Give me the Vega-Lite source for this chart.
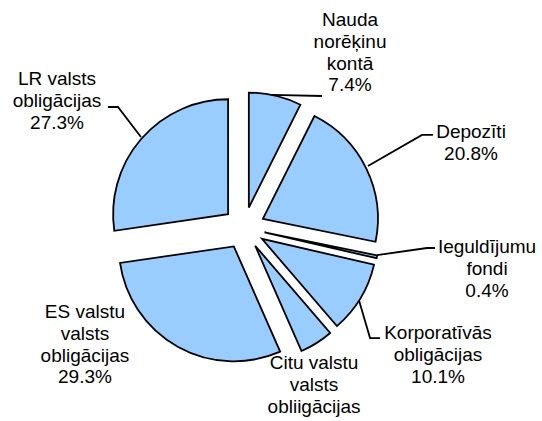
{
  "$schema": "https://vega.github.io/schema/vega-lite/v6.json",
  "width": 542,
  "height": 421,
  "padding": 0,
  "autosize": {"type": "fit", "contains": "padding"},
  "background": "white",
  "view": {"stroke": null},
  "config": {"font": "Liberation Sans"},
  "datasets": {
    "slices": [
      {"i": 1, "name": "Nauda norēķinu kontā", "value": 7.4},
      {"i": 2, "name": "Depozīti", "value": 20.8},
      {"i": 3, "name": "Ieguldījumu fondi", "value": 0.4},
      {"i": 4, "name": "Korporatīvās obligācijas", "value": 10.1},
      {"i": 5, "name": "Citu valstu valsts obliigācijas", "value": 4.7},
      {"i": 6, "name": "ES valstu valsts obligācijas", "value": 29.3},
      {"i": 7, "name": "LR valsts obligācijas", "value": 27.3}
    ],
    "labels": [
      {"label": "Nauda\nnorēķinu\nkontā\n7.4%", "lx": 0.922, "ly": 1.809},
      {"label": "Depozīti\n20.8%", "lx": 1.974, "ly": 0.835},
      {"label": "Ieguldījumu\nfondi\n0.4%", "lx": 2.113, "ly": -0.165},
      {"label": "Korporatīvās\nobligācijas\n10.1%", "lx": 1.687, "ly": -0.913},
      {"label": "Citu valstu\nvalsts\nobliigācijas", "lx": 0.609, "ly": -1.174},
      {"label": "ES valstu\nvalsts\nobligācijas\n29.3%", "lx": -1.383, "ly": -0.730},
      {"label": "LR valsts\nobligācijas\n27.3%", "lx": -1.626, "ly": 1.296}
    ],
    "leaders": [
      {"lid": "LR", "k": 1, "px": -0.896, "py": 0.791},
      {"lid": "LR", "k": 2, "px": -1.096, "py": 1.052},
      {"lid": "LR", "k": 3, "px": -1.183, "py": 1.052},
      {"lid": "N", "k": 1, "px": 0.243, "py": 1.157},
      {"lid": "N", "k": 2, "px": 0.678, "py": 1.148},
      {"lid": "D", "k": 1, "px": 1.078, "py": 0.539},
      {"lid": "D", "k": 2, "px": 1.548, "py": 0.809},
      {"lid": "D", "k": 3, "px": 1.643, "py": 0.809},
      {"lid": "I", "k": 1, "px": 1.157, "py": -0.235},
      {"lid": "I", "k": 2, "px": 1.591, "py": -0.174},
      {"lid": "I", "k": 3, "px": 1.661, "py": -0.174},
      {"lid": "K", "k": 1, "px": 0.999, "py": -0.626},
      {"lid": "K", "k": 2, "px": 1.096, "py": -0.957},
      {"lid": "K", "k": 3, "px": 1.183, "py": -0.957}
    ]
  },
  "layer": [
    {
      "data": {"name": "slices"},
      "transform": [
        {"window": [{"op": "sum", "field": "value", "as": "end"}], "sort": [{"field": "i"}], "frame": [null, 0]},
        {"calculate": "datum.end - datum.value", "as": "start"},
        {"calculate": "(datum.start + datum.end) / 100 * PI", "as": "mid"},
        {"calculate": "0.1826 * sin(datum.mid)", "as": "ex"},
        {"calculate": "0.1826 * cos(datum.mid)", "as": "ey"}
      ],
      "mark": {"type": "arc", "radius": 115, "fill": "#99CCFF", "stroke": "#000000", "strokeWidth": 1.8, "strokeJoin": "miter"},
      "encoding": {
        "theta": {"field": "start", "type": "quantitative", "stack": null, "scale": {"domain": [0, 100], "range": [0, 6.283185307]}},
        "theta2": {"field": "end"},
        "x": {"field": "ex", "type": "quantitative", "scale": {"domain": [-2.1217, 2.5913], "nice": false, "zero": false}, "axis": null},
        "y": {"field": "ey", "type": "quantitative", "scale": {"domain": [-1.6783, 1.9826], "nice": false, "zero": false}, "axis": null}
      }
    },
    {
      "data": {"name": "leaders"},
      "mark": {"type": "line", "color": "#000000", "strokeWidth": 1.8},
      "encoding": {
        "x": {"field": "px", "type": "quantitative"},
        "y": {"field": "py", "type": "quantitative"},
        "detail": {"field": "lid"},
        "order": {"field": "k", "type": "quantitative"}
      }
    },
    {
      "data": {"name": "labels"},
      "mark": {"type": "text", "font": "Liberation Sans", "fontSize": 19, "lineBreak": "\n", "lineHeight": 21.8, "align": "center", "baseline": "middle", "color": "#000000"},
      "encoding": {
        "x": {"field": "lx", "type": "quantitative"},
        "y": {"field": "ly", "type": "quantitative"},
        "text": {"field": "label"}
      }
    }
  ]
}
